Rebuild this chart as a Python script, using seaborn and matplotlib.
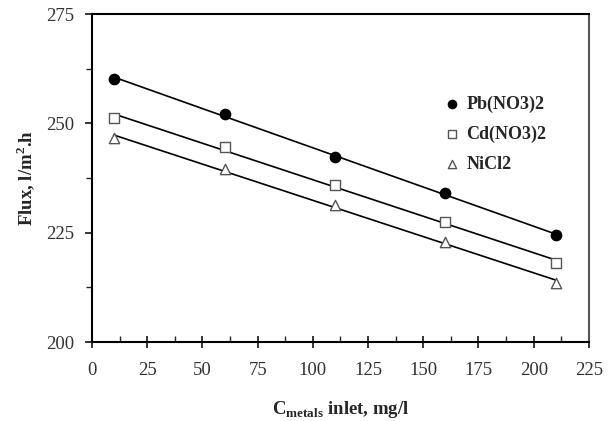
import numpy as np
import pandas as pd
import matplotlib
matplotlib.use("Agg")
import matplotlib.pyplot as plt
import seaborn as sns
from matplotlib.ticker import MultipleLocator

# Metal concentration at the inlet (mg/l) and measured permeate flux (l/m2.h)
conc = [10, 60, 110, 160, 210]
flux_pb = [260.2, 252.1, 242.4, 234.0, 224.4]
flux_cd = [251.2, 244.7, 235.8, 227.4, 218.1]
flux_ni = [246.6, 239.5, 231.3, 222.8, 213.5]
series_names = ["Pb(NO3)2", "Cd(NO3)2", "NiCl2"]

sns.set_style("white")
plt.rcParams["font.family"] = ["Liberation Serif", "DejaVu Serif"]
plt.rcParams["mathtext.fontset"] = "custom"
plt.rcParams["mathtext.rm"] = "Liberation Serif"
plt.rcParams["mathtext.bf"] = "Liberation Serif:bold"

fig = plt.figure(figsize=(6.16, 4.21), dpi=100)
ax = fig.add_axes([0.1494, 0.1876, 0.8066, 0.779])

styles = [
    dict(marker="o", facecolor="black", edgecolor="black"),
    dict(marker="s", facecolor="white", edgecolor="#555555"),
    dict(marker="^", facecolor="white", edgecolor="#555555"),
]

for name, vals, st in zip(series_names, [flux_pb, flux_cd, flux_ni], styles):
    df = pd.DataFrame({"conc": conc, "flux": vals})
    # linear trend line through each series
    sns.regplot(data=df, x="conc", y="flux", ax=ax, scatter=False, ci=None,
                truncate=True, line_kws=dict(color="black", lw=1.2))
    sns.scatterplot(data=df, x="conc", y="flux", ax=ax, marker=st["marker"],
                    s=55, color=st["facecolor"], edgecolor=st["edgecolor"],
                    linewidth=1.0, label=name, zorder=3)

ax.set_xlim(0, 225)
ax.set_ylim(200, 275)
ax.xaxis.set_major_locator(MultipleLocator(25))
ax.xaxis.set_minor_locator(MultipleLocator(12.5))
ax.yaxis.set_major_locator(MultipleLocator(25))
ax.yaxis.set_minor_locator(MultipleLocator(12.5))
ax.tick_params(axis="x", which="major", direction="inout", length=9, width=1.3,
               labelsize=13.5, labelcolor="#333333", pad=10, bottom=True)
ax.tick_params(axis="x", which="minor", direction="in", length=4, width=1.0, bottom=True)
ax.tick_params(axis="y", which="major", direction="out", length=5, width=1.3,
               labelsize=13.5, labelcolor="#333333", pad=8, left=True)
ax.tick_params(axis="y", which="minor", direction="out", length=4, width=1.0, left=True)

for side in ["left", "bottom", "top"]:
    ax.spines[side].set_color("black")
    ax.spines[side].set_linewidth(1.5)
ax.spines["right"].set_color("#555555")
ax.spines["right"].set_linewidth(1.5)

ax.set_ylabel("Flux, l/m$^{\\mathbf{2}}$.h", fontsize=13.5, fontweight="bold", labelpad=6)
ax.set_xlabel("$\\mathbf{C}_{\\mathbf{metals}}$ inlet, mg/l", fontsize=13.5,
              fontweight="bold", labelpad=14)

handles, labels = ax.get_legend_handles_labels()
leg = ax.legend(handles, labels, loc="upper left", bbox_to_anchor=(0.655, 0.80),
                frameon=False, handletextpad=-0.2, labelspacing=0.7, markerscale=0.8,
                prop=dict(family="Liberation Serif", weight="bold", size=13))

fig.savefig("out.png", dpi=100)
